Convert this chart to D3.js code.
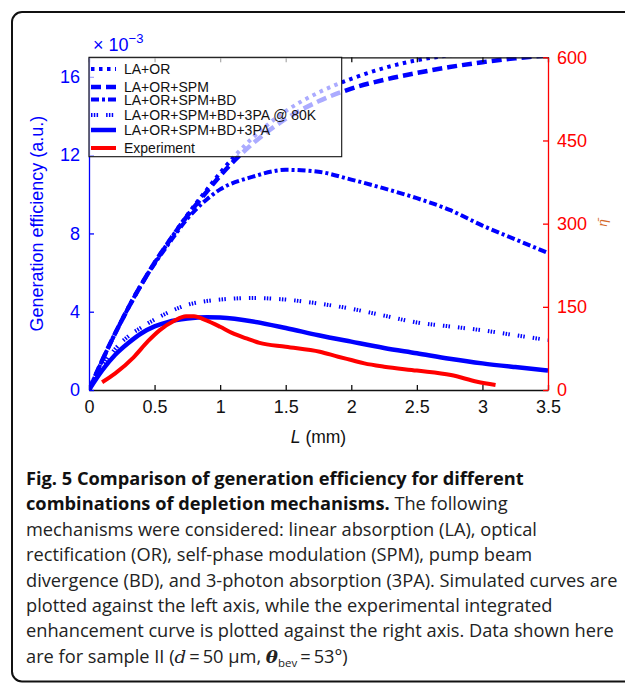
<!DOCTYPE html>
<html>
<head>
<meta charset="utf-8">
<script src="https://cdn.jsdelivr.net/npm/d3@7"></script>
<style>
  body { margin: 0; background: #fff; }
  svg { display: block; }
  .chart text { font-family: 'Liberation Sans', Arial, sans-serif; }
  .caption text { font-family: 'Open Sans', 'Noto Sans', sans-serif; font-size: 17.5px; fill: #222; }
</style>
</head>
<body>
<div id="figure"></div>
<script>
// data (simulated curves on left axis, x1e-3)
var L = [0, 0.1, 0.2, 0.3, 0.4, 0.5, 0.6, 0.75, 0.9, 1.0, 1.25, 1.5, 1.75, 2.0, 2.25, 2.5, 2.75, 3.0, 3.25, 3.5];
var laOr        = [0, 1.5, 2.9, 4.2, 5.4, 6.5, 7.5, 8.95, 10.25, 11.1, 12.9, 14.25, 15.2, 15.9, 16.45, 16.85, 17.1, 17.3, 17.5, 17.65];
var laOrSpm     = [0, 1.5, 2.9, 4.2, 5.4, 6.5, 7.5, 8.9, 10.15, 10.95, 12.6, 13.85, 14.75, 15.4, 15.85, 16.2, 16.5, 16.75, 16.95, 17.1];
var laOrSpmBd   = [0, 1.5, 2.9, 4.2, 5.4, 6.45, 7.4, 8.75, 9.75, 10.25, 10.9, 11.25, 11.15, 10.75, 10.3, 9.8, 9.2, 8.4, 7.7, 7.0];
var at80K       = [0, 1.2, 2.1, 2.75, 3.2, 3.6, 3.95, 4.35, 4.55, 4.62, 4.7, 4.62, 4.42, 4.15, 3.8, 3.45, 3.25, 3.05, 2.8, 2.55];
var with3pa     = [0, 1.0, 1.8, 2.4, 2.9, 3.25, 3.47, 3.65, 3.72, 3.7, 3.5, 3.17, 2.8, 2.47, 2.15, 1.88, 1.6, 1.36, 1.17, 1.0];

// experiment on right axis
var expL   = [0.1, 0.2, 0.34, 0.45, 0.54, 0.65, 0.74, 0.8, 0.89, 1.0, 1.09, 1.2, 1.3, 1.5, 1.76, 1.9, 2.0, 2.1, 2.25, 2.5, 2.76, 2.96, 3.1];
var expEta = [14, 30, 59, 88, 108, 125, 133, 133, 126, 114, 103, 93, 85, 78, 69, 60, 54, 48, 42, 35, 27, 15, 9];

var seriesNames = ['LA+OR', 'LA+OR+SPM', 'LA+OR+SPM+BD', 'LA+OR+SPM+BD+3PA @ 80K', 'LA+OR+SPM+BD+3PA', 'Experiment'];
var xTicks = [0, 0.5, 1, 1.5, 2, 2.5, 3, 3.5];
var yLeftTicks = [0, 4, 8, 12, 16];
var yRightTicks = [0, 150, 300, 450, 600];

// line styles
var styles = [
    { color: '#0000ff', width: 4, dash: '3.5,4.5' },
    { color: '#0000ff', width: 4.5, dash: '10,5' },
    { color: '#0000ff', width: 4, dash: '8,3,3,3' },
    { color: '#0000ff', width: 4, dash: '1.5,1.3,1.5,1.3,1.5,8' },
    { color: '#0000ff', width: 4.5, dash: null },
    { color: '#ff0000', width: 4, dash: null }
];

var W = 625, H = 685;
var plot = { left: 89, right: 548, top: 57.3, bottom: 390 };

var svg = d3.select('#figure').append('svg')
    .attr('width', W).attr('height', H);

// outer rounded frame
svg.append('rect')
    .attr('x', 12).attr('y', 12)
    .attr('width', 640).attr('height', 669.5)
    .attr('rx', 10)
    .attr('fill', 'none')
    .attr('stroke', '#111')
    .attr('stroke-width', 2);

var chart = svg.append('g').attr('class', 'chart');

var x = d3.scaleLinear().domain([0, 3.5]).range([plot.left, plot.right]);
var yL = d3.scaleLinear().domain([0, 17]).range([plot.bottom, plot.top]);
var yR = d3.scaleLinear().domain([0, 600]).range([plot.bottom, plot.top]);

chart.append('defs').append('clipPath')
    .attr('id', 'clip')
    .append('rect')
    .attr('x', plot.left).attr('y', plot.top)
    .attr('width', plot.right - plot.left)
    .attr('height', plot.bottom - plot.top);

// simulated curves
var simData = [laOr, laOrSpm, laOrSpmBd, at80K, with3pa];
var lineL = d3.line()
    .x(function(d) { return x(d[0]); })
    .y(function(d) { return yL(d[1]); })
    .curve(d3.curveMonotoneX);
var lineR = d3.line()
    .x(function(d) { return x(d[0]); })
    .y(function(d) { return yR(d[1]); })
    .curve(d3.curveMonotoneX);

var curves = chart.append('g').attr('clip-path', 'url(#clip)');
simData.forEach(function(vals, i) {
    curves.append('path')
        .datum(L.map(function(l, j) { return [l, vals[j]]; }))
        .attr('d', lineL)
        .attr('fill', 'none')
        .attr('stroke', styles[i].color)
        .attr('stroke-width', styles[i].width)
        .attr('stroke-dasharray', styles[i].dash);
});
curves.append('path')
    .datum(expL.map(function(l, j) { return [l, expEta[j]]; }))
    .attr('d', lineR)
    .attr('fill', 'none')
    .attr('stroke', styles[5].color)
    .attr('stroke-width', styles[5].width);

// axes (ticks point inward)
var fmt = function(d) { return d; };
var gBottom = chart.append('g')
    .attr('transform', 'translate(0,' + plot.bottom + ')')
    .call(d3.axisBottom(x).tickValues(xTicks).tickFormat(fmt).tickSizeInner(-5).tickSizeOuter(0).tickPadding(10));
var gTop = chart.append('g')
    .attr('transform', 'translate(0,' + plot.top + ')')
    .call(d3.axisTop(x).tickValues(xTicks).tickFormat('').tickSizeInner(-5).tickSizeOuter(0));
var gLeft = chart.append('g')
    .attr('transform', 'translate(' + plot.left + ',0)')
    .call(d3.axisLeft(yL).tickValues(yLeftTicks).tickSizeInner(-5).tickSizeOuter(0).tickPadding(9));
var gRight = chart.append('g')
    .attr('transform', 'translate(' + plot.right + ',0)')
    .call(d3.axisRight(yR).tickValues(yRightTicks).tickSizeInner(-5).tickSizeOuter(0).tickPadding(9));

[[gBottom, '#111'], [gTop, '#111'], [gLeft, '#0000ff'], [gRight, '#ff0000']].forEach(function(a) {
    a[0].selectAll('path, line').attr('stroke', a[1]).attr('stroke-width', 1.3);
    a[0].selectAll('text')
        .attr('fill', a[1])
        .style('font-size', '18px');
});

// exponent label
chart.append('text')
    .attr('x', 93).attr('y', 51)
    .attr('fill', '#0000ff')
    .style('font-size', '18px')
    .text('\u00d7 10')
    .append('tspan')
    .attr('dy', -8)
    .style('font-size', '13px')
    .text('\u22123');

// axis titles
chart.append('text')
    .attr('transform', 'translate(43,' + ((plot.top + plot.bottom) / 2) + ') rotate(-90)')
    .attr('text-anchor', 'middle')
    .attr('fill', '#0000ff')
    .style('font-size', '18px')
    .text('Generation efficiency (a.u.)');

var xt = chart.append('text')
    .attr('x', (plot.left + plot.right) / 2).attr('y', 443)
    .attr('text-anchor', 'middle')
    .attr('fill', '#111')
    .style('font-size', '17.5px');
xt.append('tspan').style('font-style', 'italic').text('L');
xt.append('tspan').text(' (mm)');

chart.append('text')
    .attr('transform', 'translate(607,223) rotate(-90)')
    .attr('text-anchor', 'middle')
    .attr('fill', '#d4692a')
    .style('font-size', '13px')
    .style('font-style', 'italic')
    .text('\u03b7\u0304');

// legend
var legendH = [69, 87, 99.5, 115, 130, 148];
var legend = chart.append('g');
legend.append('rect')
    .attr('x', plot.left).attr('y', plot.top)
    .attr('width', 252.7).attr('height', 99.4)
    .attr('fill', '#fff').attr('fill-opacity', 0.67)
    .attr('stroke', '#111').attr('stroke-width', 1.1);
seriesNames.forEach(function(name, i) {
    legend.append('line')
        .attr('x1', 91).attr('x2', 116)
        .attr('y1', legendH[i]).attr('y2', legendH[i])
        .attr('stroke', styles[i].color)
        .attr('stroke-width', styles[i].width)
        .attr('stroke-dasharray', styles[i].dash);
    legend.append('text')
        .attr('x', 124).attr('y', legendH[i])
        .attr('dy', '0.36em')
        .attr('fill', '#111')
        .style('font-size', '14px')
        .text(name);
});

// caption
var capLines = [
    [['b', 'Fig. 5 Comparison of generation efficiency for different']],
    [['b', 'combinations of depletion mechanisms.'], ['r', ' The following']],
    [['r', 'mechanisms were considered: linear absorption (LA), optical']],
    [['r', 'rectification (OR), self-phase modulation (SPM), pump beam']],
    [['r', 'divergence (BD), and 3-photon absorption (3PA). Simulated curves are']],
    [['r', 'plotted against the left axis, while the experimental integrated']],
    [['r', 'enhancement curve is plotted against the right axis. Data shown here']],
    [['r', 'are for sample II ('], ['i', 'd'], ['r', '\u2009=\u200950 \u00b5m, '], ['m', '\u03b8'], ['s', 'bev'], ['r', '\u2009=\u200953\u00b0)']]
];
var caption = svg.append('g').attr('class', 'caption');
var capTexts = capLines.map(function(parts, i) {
    var t = caption.append('text').attr('x', 0).attr('y', 485 + i * 25.4);
    parts.forEach(function(p) {
        var s = t.append('tspan').text(p[1]);
        if (p[0] === 'b') s.style('font-weight', 700).style('fill', '#111');
        if (p[0] === 'i') s.style('font-style', 'italic').style('font-family', "'DejaVu Serif', serif");
        if (p[0] === 'm') s.style('font-style', 'italic').style('font-weight', 700).style('font-family', "'DejaVu Serif', serif");
        if (p[0] === 's') s.style('font-size', '11px').attr('dy', 4);
        if (p[0] === 'r' && i === 7 && p[1].indexOf('53') >= 0) s.attr('dy', -4);
    });
    return t;
});
// fit the caption width to the reference text block
var sx = 592 / capTexts[4].node().getComputedTextLength();
caption.attr('transform', 'translate(26,0) scale(' + sx + ',1)');
</script>
</body>
</html>
